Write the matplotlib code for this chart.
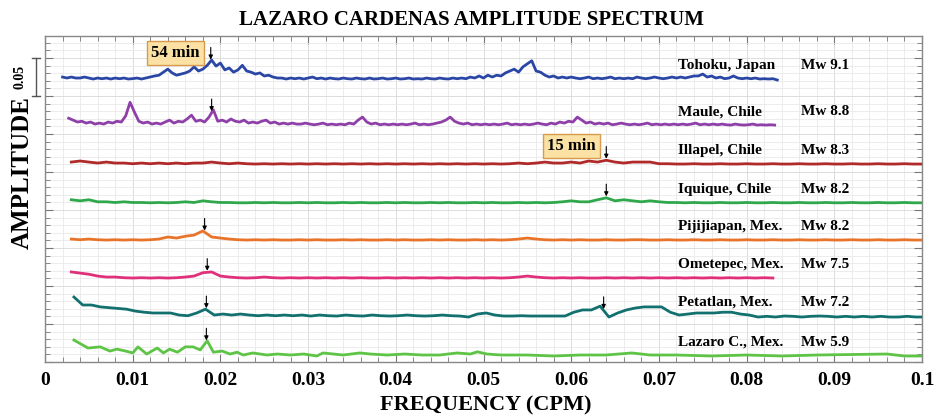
import numpy as np
import matplotlib
matplotlib.use("Agg")
import matplotlib.pyplot as plt
from matplotlib.ticker import MultipleLocator, FixedFormatter, FixedLocator

plt.rcParams["font.family"] = ["Liberation Serif", "DejaVu Serif"]
plt.rcParams["font.weight"] = "bold"

# amplitudes are in thousandths of the spectral amplitude, above each trace's own base
events = ["Tohoku, Japan", "Maule, Chile", "Illapel, Chile", "Iquique, Chile",
          "Pijijiapan, Mex.", "Ometepec, Mex.", "Petatlan, Mex.", "Lazaro C., Mex."]
magnitudes = ["Mw 9.1", "Mw 8.8", "Mw 8.3", "Mw 8.2", "Mw 8.2", "Mw 7.5", "Mw 7.2", "Mw 5.9"]
offsets = [0.3724, 0.3118, 0.2605, 0.2095, 0.1605, 0.1105, 0.0605, 0.0079]
colors = ["#2b47a6", "#8e3fa8", "#b02a2a", "#2ea84a",
          "#e8742a", "#e0307a", "#12706e", "#5ec445"]

# uniform frequency grids: (first frequency, step)
tohoku_grid = (0.0020, 0.0005)
tohoku_amp = [
    2.6, 1.3, 2.6, 1.3, 1.3, 2.6, 1.3, 0, 1.3, 0.4, 1.3, 0, 1.3, 0.4, 1.3, 0, 0.5, 1.3, 0, 1.3,
    2.6, 4, 5, 9, 13, 8, 5, 6.5, 8, 10.5, 16, 10.5, 13, 18, 25, 17, 21, 12, 14.5, 9,
    12, 18, 10.5, 9, 6.5, 8, 4, 5, 2.6, 1.3, 1.3, 0, 1.3, 0.4, 1.3, 0,
    1.3, 2.6, 0.4, 1.3, 0, 1.3, 0.4, 0, 1.3, 0.4, 0, 1.3, 0.4, 0, 1.3, 0, 0.4, 1.3, 0, 0.4,
    1.3, 0, 0.4, 1.3, 0, 0.4, 0, 1.3, 0.4, 0, 1.3, 0.4, 0, 1.3, 0.4, 1.3, 0.4,
    2.6, 1.3, 4, 1.3, 5, 2.6, 5, 4, 8, 10.5, 13, 9, 16, 20, 24, 10.5, 9, 5, 2.6, 4,
    1.3, 2.6, 1.3, 2.6,
    1.3, 0.4, 1.3, 2.6, 0.4, 1.3, 0.4, 1.3, 2.6, 0.4, 1.3, 0.4, 1.3, 0.4, 2.6, 1.3, 0.4, 1.3, 2.6, 1.3,
    0.4, 1.3, 2.6, 1.3, 2.6, 1.3, 2.6, 4, 4, 6.5,
    2.6, 4, 1.3, 2.6, 0.4, 1.3, 4, 1.3, 0.4, 1.3, 0.4, 1.3, 0, 0.4, 0, 0.4, -1.3,
]

maule_grid = (0.0027, 0.0005)
maule_amp = [
    9, 6.5, 4, 5, 2.6, 4, 1.3, 2.6, 1.3, 4, 2.6, 5, 4, 12, 30, 17, 5, 2.6, 4, 1.3,
    2.6, 1.3, 4, 6.5, 2.6, 5, 4, 8, 13, 5, 6.5, 4, 10.5, 20, 5, 6.5, 4, 8, 5, 4,
    6.5, 2.6, 4, 2.6, 5, 6.5, 2.6, 4, 1.3, 2.6, 1.3, 2.6, 1.3, 1.3, 2.6, 1.3,
    0.4, 1.3, 2.6, 0.4, 1.3, 0.4, 1.3, 0.4, 2.6, 1.3, 6.5, 10.5, 4, 1.3, 2.6, 0.4, 1.3, 0.4, 1.3, 0.4,
    1.3, 0.4, 1.3, 2.6, 0.4, 1.3, 0.4, 1.3, 2.6, 4, 6.5, 10.5, 5, 2.6, 1.3, 2.6, 0.4, 1.3, 0.4, 1.3,
    0.4, 1.3, 0.4, 1.3, 2.6, 0.4, 1.3, 0.4, 1.3, 0.4, 1.3, 2.6, 1.3, 0.4, 2.6, 1.3, 4, 2.6, 5, 4,
    10.5, 6.5, 2.6, 4, 1.3, 2.6, 1.3, 2.6, 0.4, 1.3, 2.6, 1.3, 0.4, 1.3, 0.4, 1.3, 2.6, 0.4, 1.3, 0.4,
    1.3, 0.4, 1.3, 0.4, 1.3, 0.4, 1.3, 2.6, 0.4, 1.3, 0.4, 1.3, 0.4, 1.3, 0.4, 0, 1.3, 0.4, 0, 0.4,
    1.3, 0, 0.4, 0, 0.4, 0,
]

illapel_grid = (0.003, 0.001)
illapel_amp = [
    2.6, 4, 2.6, 1.3, 2.6, 1.3, 1.3, 0.4, 1.3, 0.4,
    1.3, 0.4, 1.3, 0.4, 1.3, 1.3, 2.6, 1.3, 0.4, 1.3,
    0.4, 0, 0.4, 0, 0.4, 0, 0.4, 0, 0.4, 0, 0.4, 0, 0.4, 0, 0.4,
    0, 0.4, 0, 0.4, 0, 0.4, 0, 0.4, 0, 0.4, 0, 0.4, 0, 0.4, 0,
    0.4, 1.3, 0.4, 1.3, 2.6, 1.3, 1.3, 2.6, 1.3, 4, 2.6, 5, 2.6, 1.3, 2.6, 2.6, 2.6, 0.4, 0.4, 0,
    0, 0.4, 0, 0, 0.4, 0, 0, 0.4, 0, 0, 0.4, 0, 0, 0.4, 0, 0, 0.4, 0, 0, 0.4, 0, 0, 0.4, 0, 0, 0.4, 0, 0,
]

iquique_grid = (0.003, 0.001)
iquique_amp = [
    4, 2.6, 4, 1.3, 1.3, 0.4, 1.3, 0.4, 0.4, 0,
    0.4, 0, 0.4, 1.3, 0.4, 2.6, 1.3, 0.4, 0.4, 0,
    0, 0.4, 0, 0.4, 0, 0, 0.4, 0, 0.4, 0, 0, 0.4, 0, 0.4, 0,
    0, 0.4, 0, 0.4, 0, 0, 0.4, 0, 0.4, 0, 0, 0.4, 0, 0.4, 0,
    0, 0.4, 0, 0.4, 0, 0.4, 1.3, 2.6, 1.3, 1.3, 4, 6.5, 2.6, 4, 2.6, 1.3, 2.6, 1.3, 0.4, 0.4,
    0, 0.4, 0, 0, 0.4, 0, 0, 0.4, 0, 0, 0.4, 0, 0, 0.4, 0, 0, 0.4, 0, 0, 0.4, 0, 0, 0.4, 0, 0, 0.4, 0, 0,
]

pijijiapan_grid = (0.003, 0.001)
pijijiapan_amp = [
    1.3, 0.4, 1.3, 0.4, 0, 0.4, 0, 0.4, 0, 0.4,
    1.3, 4, 2.6, 5, 6.5, 12, 4, 2.6, 1.3, 0.4,
    0, 0.4, 0, 0.4, 0, 0, 0.4, 0, 0.4, 0, 0, 0.4, 0, 0.4, 0,
    0, 0.4, 0, 0.4, 0, 0, 0.4, 0, 0.4, 0, 0, 0.4, 0, 0.4, 0,
    0.4, 1.3, 2.6, 1.3, 0.4, 0, 0.4, 0, 0.4, 0,
    0, 0.4, 0, 0, 0.4, 0.4, 0, 0, 0.4, 0, 0, 0.4, 0, 0, 0.4, 0, 0, 0.4, 0,
    0, 0.4, 0, 0, 0.4, 0, 0, 0.4, 0, 0, 0.4, 0, 0, 0.4, 0, 0, 0.4, 0, 0,
]

ometepec_grid = (0.003, 0.001)
ometepec_amp = [
    8, 6.5, 5, 2.6, 1.3, 1.3, 0.4, 0, 0.4, 0,
    0.4, 0, 0.4, 1.3, 2.6, 7, 8, 2.6, 1.3, 0.4,
    0, 0.4, 1.3, 0.4, 0, 0.4, 0, 0.4, 0, 0.4, 0, 0.4, 0, 0.4, 0,
    0, 0.4, 0, 0.4, 0, 0.4, 0, 0.4, 0, 0.4, 0, 0.4, 0, 0.4, 0,
    0.4, 1.3, 2.6, 1.3, 0.4, 0, 0.4, 0, 0.4, 0,
    0, 0.4, 0, 0.4, 0, 0.4, 0, 0.4, 0, 0.4, 0, 0.4, 0, 0.4, 0, 0.4, 0, 0.4, 0, 0.4, 0,
]

petatlan_grid = (0.0033, 0.001)
petatlan_amp = [
    25, 14.5, 14.5, 12, 11, 10, 9, 6.5, 5, 4,
    4, 4, 1.3, 0.4, 4, 9, 1.3, 2.6, 1.3, 2.6,
    1.3, 0.4, 1.3, 0.4, 1.3, 0.4, 1.3, 0, 1.3, 0.4,
    0, 1.3, 0.4, 0, 1.3, 0.4, 0, 0.4, 1.3, 0.4,
    0, 0.4, 1.3, 0.4, 0, -1.3, 2.6, 4, 1.3, 0,
    0, 0.4, 0, 0, 0, 0, 0, 5, 8, 8,
    13, -1.3, 4, 8, 10.5, 12, 12, 12, 5, 1.3,
    2.6, 4, 4, 4, 5, 5, 2.6, 1.3, -1.3, -0.4,
    -1.3, 0, -0.4, -1.3, -0.4, 0, -0.4, -1.3, -0.4, -1.3,
    -0.4, -1.3, -0.4, -1.3, -1.3, -0.4, -1.3, -1.3,
]

# Lazaro C. is coarsely sampled, so its frequencies are read point by point
lazaro_freq = [
    0.0033, 0.0049, 0.0063, 0.0074, 0.0082, 0.0092, 0.0100, 0.0106, 0.0116, 0.0128,
    0.0135, 0.0142, 0.0151, 0.0160, 0.0169, 0.0177, 0.0185, 0.0192, 0.0202, 0.0211,
    0.0219, 0.0226, 0.0237, 0.0253, 0.0265, 0.0280, 0.0295, 0.0310, 0.0317, 0.0340,
    0.0359, 0.0371, 0.0390, 0.0410, 0.0430, 0.0450, 0.0470, 0.0485, 0.0493, 0.0504,
    0.0520, 0.0550, 0.0580, 0.0610, 0.0640, 0.0669, 0.0690, 0.0720, 0.0760, 0.0800,
    0.0840, 0.0880, 0.0960, 0.0980, 0.1000,
]
lazaro_amp = [
    21, 10.5, 12, 6.5, 9, 6.5, 4, 12, 2.6, 10.5,
    4, 9, 5, 12, 12, 8, 20, 5, 6.5, 2.6,
    5, 1.3, 4, 1.3, 2.6, 1.3, 2.6, 0, 4, 1.3,
    4, 2.6, 1.3, 2.6, 1.3, 1.3, 4, 2.6, 5.5, 2.6,
    1.3, 1.3, 0, 1.3, 1.3, 4, 1.3, 1.3, 0, 1.3,
    0, 1.3, 2.6, 0, 0,
]

# marked peaks: (trace index, frequency in CPM)
peak_marks = [(0, 0.0189), (1, 0.0190), (2, 0.0640), (3, 0.0640), (4, 0.0182),
              (5, 0.0185), (6, 0.0184), (6, 0.0637), (7, 0.0184)]
period_notes = [("54 min", 0.0149, 0.4066), ("15 min", 0.0600, 0.2840)]
scale_bar = 0.05


def grid_freq(grid, n):
    f0, df = grid
    return f0 + df * np.arange(n)


traces = [
    (grid_freq(tohoku_grid, len(tohoku_amp)), tohoku_amp),
    (grid_freq(maule_grid, len(maule_amp)), maule_amp),
    (grid_freq(illapel_grid, len(illapel_amp)), illapel_amp),
    (grid_freq(iquique_grid, len(iquique_amp)), iquique_amp),
    (grid_freq(pijijiapan_grid, len(pijijiapan_amp)), pijijiapan_amp),
    (grid_freq(ometepec_grid, len(ometepec_amp)), ometepec_amp),
    (grid_freq(petatlan_grid, len(petatlan_amp)), petatlan_amp),
    (np.array(lazaro_freq), lazaro_amp),
]

fig = plt.figure(figsize=(9.38, 4.2), dpi=100)
ax = fig.add_axes([45 / 938, 58 / 420, 877 / 938, 326 / 420])

curves = []
for (freq, amp), off, col in zip(traces, offsets, colors):
    y = off + np.array(amp) / 1000.0
    ax.plot(freq, y, color=col, lw=2.0, zorder=3)
    curves.append((freq, y))

for i, (name, mw) in enumerate(zip(events, magnitudes)):
    ax.text(0.0722, offsets[i] + 0.0178, name, fontsize=11, fontweight="bold",
            va="center", ha="left", zorder=5)
    ax.text(0.0862, offsets[i] + 0.0178, mw, fontsize=11, fontweight="bold",
            va="center", ha="left", zorder=5)

for i, f in peak_marks:
    freq, y = curves[i]
    tip = np.interp(f, freq, y) + 0.002
    ax.annotate("", xy=(f, tip), xytext=(f, tip + 0.016),
                arrowprops=dict(arrowstyle="-|>", color="k", lw=0.8,
                                mutation_scale=6, shrinkA=0, shrinkB=0),
                zorder=6)

for txt, fx, fy in period_notes:
    ax.text(fx, fy, txt, fontsize=12, fontweight="bold", ha="center", va="center",
            zorder=7,
            bbox=dict(boxstyle="square,pad=0.25", facecolor="#fbe2a4",
                      edgecolor="#d79a4e", lw=1))

# amplitude scale bar left of the axis
tr = ax.get_yaxis_transform()
top, bot = 0.40, 0.40 - scale_bar
ax.plot([-0.0103, -0.0103], [bot, top], color="#555555", lw=1, transform=tr, clip_on=False)
for yy in (bot, top):
    ax.plot([-0.0148, -0.0057], [yy, yy], color="#555555", lw=1, transform=tr, clip_on=False)
ax.text(-0.029, (top + bot) / 2, f"{scale_bar:.2f}", rotation=90, fontsize=10,
        fontweight="bold", ha="center", va="center", transform=tr)

ax.set_xlim(0, 0.1)
ax.set_ylim(0, 0.429)
ax.yaxis.set_major_locator(MultipleLocator(0.05))
ax.yaxis.set_minor_locator(MultipleLocator(0.01))
ax.set_yticklabels([])
xt = np.arange(0, 0.1001, 0.01)
ax.xaxis.set_major_locator(FixedLocator(xt))
ax.xaxis.set_minor_locator(MultipleLocator(0.002))
ax.xaxis.set_major_formatter(FixedFormatter(["0"] + [f"{v:g}" for v in xt[1:]]))
for lab in ax.get_xticklabels():
    lab.set_fontsize(14)
    lab.set_fontweight("bold")

ax.tick_params(which="both", direction="in", top=True, right=True, colors="#777777",
               labelcolor="black")
ax.tick_params(which="major", length=6, width=0.8, pad=7)
ax.tick_params(which="minor", length=3.5, width=0.6)
ax.grid(which="major", color="#dcdcdc", lw=0.7)
ax.grid(which="minor", color="#e9e9e9", lw=0.6)
ax.set_axisbelow(True)
for sp in ax.spines.values():
    sp.set_color("#888888")
    sp.set_linewidth(1.0)

fig.text(471 / 938, 1 - 20 / 420, "LAZARO CARDENAS AMPLITUDE SPECTRUM",
         fontsize=15, fontweight="bold", ha="center", va="center")
fig.text(486 / 938, 1 - 405 / 420, "FREQUENCY (CPM)", fontsize=16,
         fontweight="bold", ha="center", va="center")
fig.text(22 / 938, 1 - 173 / 420, "AMPLITUDE", fontsize=18, fontweight="bold",
         rotation=90, ha="center", va="center")

fig.savefig("out.png", dpi=100, facecolor="white")
